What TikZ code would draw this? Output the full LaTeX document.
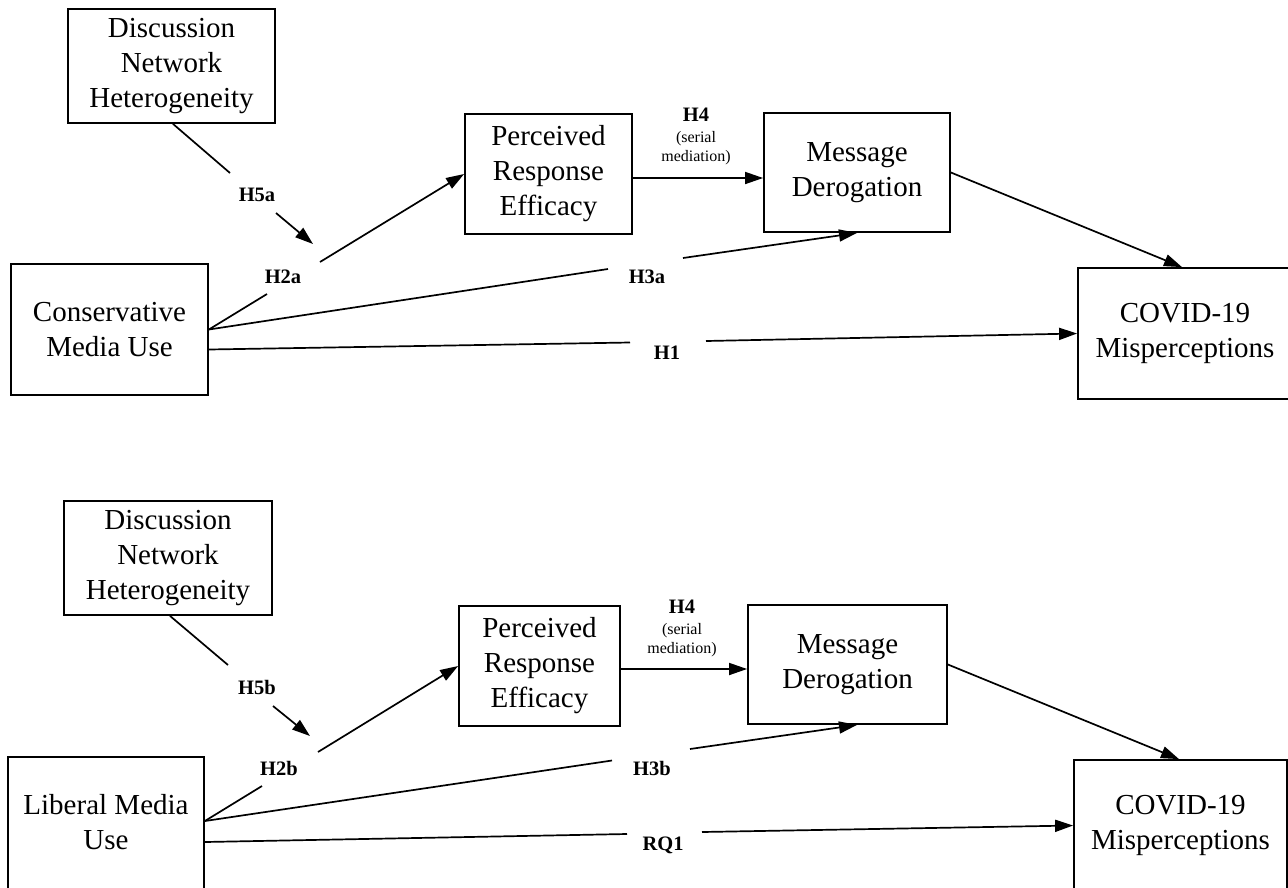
\documentclass[tikz,border=0pt]{standalone}
\usepackage{fontspec}
\setmainfont{Liberation Serif}
\usetikzlibrary{arrows.meta}
\begin{document}
\begin{tikzpicture}[x=1pt,y=-1pt,
  box/.style={draw, line width=1.8pt, align=center, inner sep=0pt, font=\fontsize{29}{35}\selectfont},
  lab/.style={font=\fontsize{20.5}{24}\selectfont\bfseries, inner sep=0pt},
  sm/.style={font=\fontsize{16}{19}\selectfont, inner sep=0pt},
  conn/.style={line width=1.7pt},
  arr/.style={conn, -{Triangle[length=18pt,width=12pt]}},
]
\useasboundingbox (0,0) rectangle (1288,887);

% ---------------- top panel ----------------
\node[box, minimum width=207pt, minimum height=114pt] (D1) at (171.5,66) {Discussion\\Network\\Heterogeneity};
\node[box, minimum width=197pt, minimum height=131pt] (C1) at (109.5,329.5) {Conservative\\Media Use};
\node[box, minimum width=167pt, minimum height=120pt] (P1) at (548.5,174) {Perceived\\Response\\Efficacy};
\node[box, minimum width=186pt, minimum height=119pt] (M1) at (857,172.5) {Message\\Derogation};
\node[box, minimum width=214pt, minimum height=131pt] (V1) at (1185,333.5) {COVID-19\\Misperceptions};

\node[lab] (h5a) at (257,195) {H5a};
\node[lab] (h2a) at (283,277) {H2a};
\node[lab] (h3a) at (647,277) {H3a};
\node[lab] (h1) at (667,353) {H1};
\node[lab] (h4t) at (696,115) {H4};
\node[sm] (s1t) at (696,139) {(serial};
\node[sm] (s2t) at (696,158) {mediation)};

\coordinate (a1) at (230,173);
\coordinate (a2) at (276,213);
\coordinate (a3) at (313,244);
\coordinate (b1) at (267,294);
\coordinate (b2) at (320,262);
\coordinate (c1) at (608,269);
\coordinate (c2) at (683,258);
\coordinate (d1) at (630,342.5);
\coordinate (d2) at (706,341);

\draw[conn] ([xshift=1.5pt]D1.south) -- (a1);
\draw[arr] (a2) -- (a3);
\draw[conn] (C1.east) -- (b1);
\draw[arr] (b2) -- (P1.west);
\draw[conn] (C1.east) -- (c1);
\draw[arr] (c2) -- (M1.south);
\draw[conn] ([yshift=-20pt]C1.east) -- (d1);
\draw[arr] (d2) -- (V1.west);
\draw[arr] ([yshift=-4pt]P1.east) -- ([yshift=-4pt]P1.east -| M1.west);
\draw[arr] (M1.east) -- ([xshift=-3pt]V1.north);

% ---------------- bottom panel ----------------
\node[box, minimum width=208pt, minimum height=114pt] (D2) at (168,558) {Discussion\\Network\\Heterogeneity};
\node[box, minimum width=196pt, minimum height=140pt, anchor=north,
  label={[font=\fontsize{29}{35}\selectfont, align=center, inner sep=0pt, yshift=5pt]center:Liberal Media\\Use}] (L2) at (106,756) {};
\node[box, minimum width=161pt, minimum height=120pt] (P2) at (539.5,666) {Perceived\\Response\\Efficacy};
\node[box, minimum width=199pt, minimum height=119pt] (M2) at (847.5,664.5) {Message\\Derogation};
\node[box, minimum width=213pt, minimum height=131pt] (V2) at (1180.5,825.5) {COVID-19\\Misperceptions};

\node[lab] (h5b) at (257,687) {H5b};
\node[lab] (h2b) at (279,768) {H2b};
\node[lab] (h3b) at (652,768) {H3b};
\node[lab] (rq1) at (663,845) {RQ1};
\node[lab] (h4b) at (682,607) {H4};
\node[sm] (s1b) at (682,631) {(serial};
\node[sm] (s2b) at (682,650) {mediation)};

\coordinate (e1) at (228,665);
\coordinate (e2) at (273,706);
\coordinate (e3) at (310,736);
\coordinate (f1) at (262,786);
\coordinate (f2) at (318,752);
\coordinate (g1) at (612,760.5);
\coordinate (g2) at (690,749);
\coordinate (k1) at (627,834);
\coordinate (k2) at (702,832);

\draw[conn] ([xshift=2pt]D2.south) -- (e1);
\draw[arr] (e2) -- (e3);
\draw[conn] (L2.east |- 0,821) -- (f1);
\draw[arr] (f2) -- (P2.west);
\draw[conn] (L2.east |- 0,821) -- (g1);
\draw[arr] (g2) -- ([xshift=9.5pt]M2.south);
\draw[conn] (L2.east |- 0,842) -- (k1);
\draw[arr] (k2) -- (V2.west);
\draw[arr] ([yshift=-3pt]P2.east) -- ([yshift=-3pt]P2.east -| M2.west);
\draw[arr] (M2.east) -- ([xshift=-1.5pt]V2.north);
\end{tikzpicture}
\end{document}
